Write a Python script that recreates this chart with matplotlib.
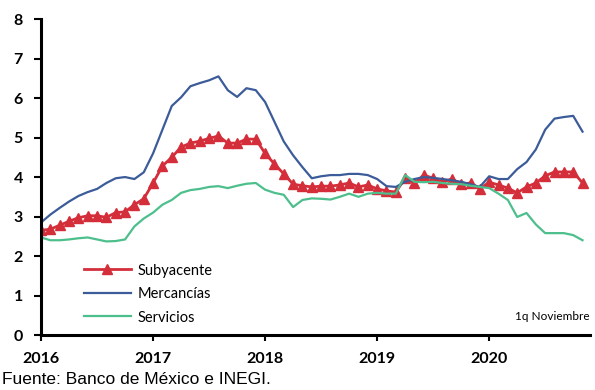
import numpy as np
import matplotlib
matplotlib.use("Agg")
import matplotlib.pyplot as plt

# inflacion anual (%), mensual ene-2016 a 1q nov-2020
subyacente = [2.65, 2.68, 2.78, 2.88, 2.97, 3.02, 3.02, 2.98, 3.10, 3.12, 3.30, 3.45,
              3.85, 4.28, 4.50, 4.76, 4.86, 4.91, 4.98, 5.04, 4.86, 4.86, 4.96, 4.96,
              4.60, 4.33, 4.08, 3.82, 3.78, 3.75, 3.77, 3.77, 3.80, 3.85, 3.75, 3.80,
              3.70, 3.65, 3.62, 3.97, 3.85, 4.05, 3.97, 3.87, 3.95, 3.82, 3.85, 3.70,
              3.87, 3.80, 3.72, 3.60, 3.75, 3.85, 4.03, 4.13, 4.13, 4.13, 3.85]
mercancias = [2.85, 3.05, 3.22, 3.38, 3.52, 3.62, 3.70, 3.85, 3.97, 4.00, 3.95, 4.12,
              4.60, 5.20, 5.80, 6.02, 6.30, 6.38, 6.45, 6.55, 6.20, 6.03, 6.25, 6.20,
              5.90, 5.40, 4.90, 4.55, 4.25, 3.97, 4.02, 4.05, 4.05, 4.08, 4.08, 4.05,
              3.95, 3.77, 3.75, 3.88, 3.95, 4.00, 3.98, 3.95, 3.92, 3.88, 3.82, 3.75,
              4.02, 3.95, 3.95, 4.20, 4.38, 4.70, 5.20, 5.48, 5.52, 5.55, 5.15]
servicios = [2.47, 2.40, 2.40, 2.42, 2.45, 2.47, 2.42, 2.37, 2.38, 2.42, 2.75, 2.95,
             3.10, 3.30, 3.42, 3.60, 3.67, 3.70, 3.75, 3.77, 3.72, 3.78, 3.83, 3.85,
             3.68, 3.60, 3.55, 3.24, 3.42, 3.46, 3.45, 3.43, 3.50, 3.58, 3.50, 3.58,
             3.60, 3.58, 3.58, 4.05, 3.88, 3.87, 3.88, 3.85, 3.83, 3.82, 3.78, 3.75,
             3.72, 3.58, 3.42, 2.99, 3.09, 2.80, 2.58, 2.58, 2.58, 2.53, 2.40]
years = [2016, 2017, 2018, 2019, 2020]

fecha = 2016 + np.arange(len(subyacente)) / 12

plt.rcParams['font.family'] = ['Lato', 'DejaVu Sans']

fig = plt.figure(figsize=(5.95, 3.9), dpi=100)
ax = fig.add_axes([0.069, 0.141, 0.9226, 0.81])

ax.plot(fecha, subyacente, color="#D42E3A", lw=2, marker="^", markersize=7,
        label="Subyacente")
ax.plot(fecha, mercancias, color="#3C5C99", lw=1.6, label="Mercancías")
ax.plot(fecha, servicios, color="#4DBF8C", lw=1.6, label="Servicios")

ax.set_ylim(0, 8)
ax.set_xlim(2016, 2020.9)
ax.set_yticks(range(0, 9))
ax.set_xticks(years, labels=[str(y) for y in years])

for s in ["top", "right"]:
    ax.spines[s].set_visible(False)
ax.spines["left"].set_linewidth(2.2)
ax.spines["bottom"].set_linewidth(2.2)
ax.tick_params(axis="y", length=5, width=1.5, labelsize=11.5, pad=8)
ax.tick_params(axis="x", length=4, width=1.5, labelsize=11.5, pad=8)
for lab in ax.get_xticklabels() + ax.get_yticklabels():
    lab.set_fontweight("bold")

ax.legend(loc="lower left", bbox_to_anchor=(0.065, 0.01), frameon=False,
          fontsize=10.5, handlelength=3.2, handletextpad=0.5, labelspacing=0.65,
          borderpad=0)

ax.text(1.0, 0.04, "1q Noviembre", transform=ax.transAxes, ha="right",
        va="bottom", fontsize=8.5)
fig.text(0.004, 0.015, "Fuente: Banco de México e INEGI.", fontsize=12.5,
         family=["Liberation Sans", "DejaVu Sans"])

fig.savefig("out.png", dpi=100)
